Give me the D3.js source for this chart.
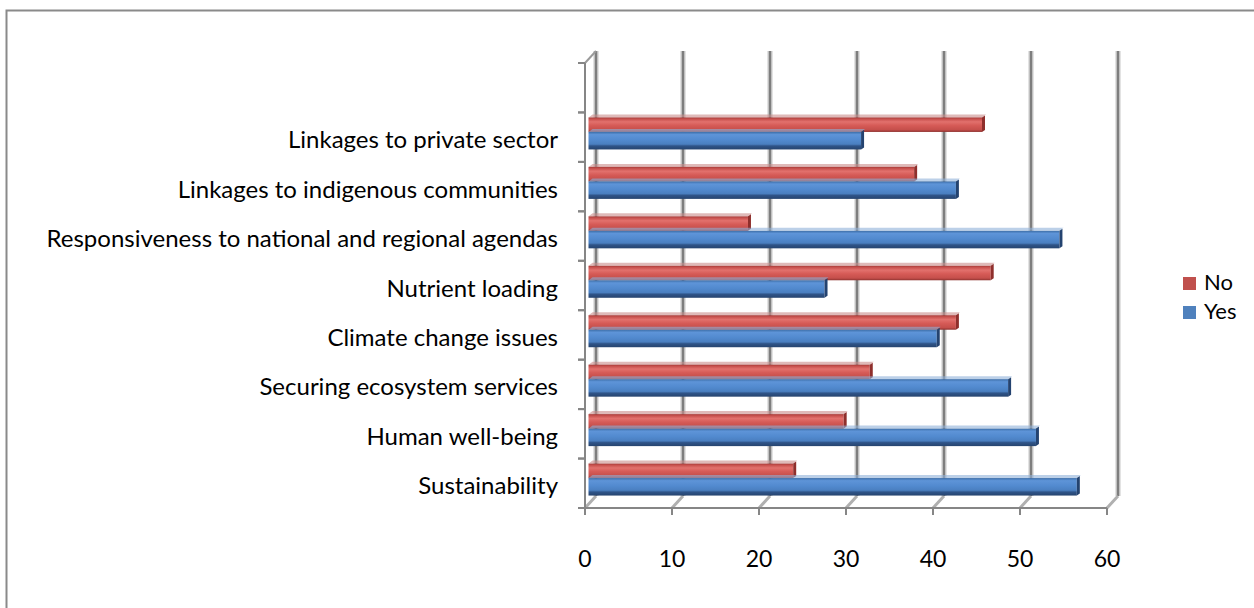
<!DOCTYPE html>
<html>
<head>
<meta charset="utf-8">
<script src="https://cdn.jsdelivr.net/npm/d3@7"></script>
<style>
  html, body { margin: 0; padding: 0; background: #ffffff; }
  svg { display: block; }
  text { font-family: "Lato", "Open Sans", sans-serif; fill: #000; }
</style>
</head>
<body>
<svg id="chart" width="1254" height="608"></svg>
<script>
// Categories listed bottom to top, as the axis runs
const categories = [
  "Sustainability",
  "Human well-being",
  "Securing ecosystem services",
  "Climate change issues",
  "Nutrient loading",
  "Responsiveness to national and regional agendas",
  "Linkages to indigenous communities",
  "Linkages to private sector"
];
const noValues  = [23.3, 29.1, 32.1, 42.0, 46.0, 18.1, 37.2, 45.0];
const yesValues = [55.9, 51.2, 48.0, 39.8, 26.9, 53.9, 42.0, 31.1];
const seriesNames = ["No", "Yes"];
const xTicks = [0, 10, 20, 30, 40, 50, 60];

const svg = d3.select("#chart");

// Plot geometry (front plane) and depth offset of the back wall
const left = 585, right = 1107, floorY = 508, topY = 63;
const depthX = 11, depthY = -12;

const x = d3.scaleLinear().domain([0, 60]).range([left, right]);
// one spare slot above the last category, as the 3-D axis leaves it
const slots = categories.concat([" "]);
const y = d3.scaleBand().domain(slots).range([floorY, topY]).paddingInner(0).paddingOuter(0);

// Outer chart frame
svg.append("rect")
  .attr("x", 6.5).attr("y", 10.5)
  .attr("width", 1300).attr("height", 700)
  .attr("fill", "none").attr("stroke", "#8a8a8a").attr("stroke-width", 2);

const defs = svg.append("defs");
function grad(id, stops) {
  const g = defs.append("linearGradient").attr("id", id)
    .attr("x1", 0).attr("y1", 0).attr("x2", 0).attr("y2", 1);
  stops.forEach(s => g.append("stop").attr("offset", s[0]).attr("stop-color", s[1]));
}
grad("gNo",  [[0, "#a83c39"], [0.12, "#c9524f"], [0.3, "#e2716d"], [0.55, "#d65b57"], [0.85, "#c54f4b"], [1, "#8e3330"]]);
grad("gYes", [[0, "#3d6ea8"], [0.15, "#5e94d8"], [0.45, "#528acf"], [0.7, "#4a7fc0"], [0.8, "#2f5488"], [1, "#26446f"]]);

// Back wall grid lines
const grid = svg.append("g");
xTicks.forEach(v => {
  grid.append("line")
    .attr("x1", x(v) + depthX).attr("x2", x(v) + depthX)
    .attr("y1", topY + depthY).attr("y2", floorY + depthY)
    .attr("stroke", "#c8c8c8").attr("stroke-width", 5);
  grid.append("line")
    .attr("x1", x(v) + depthX).attr("x2", x(v) + depthX)
    .attr("y1", topY + depthY).attr("y2", floorY + depthY)
    .attr("stroke", "#7e7e7e").attr("stroke-width", 2.2);
  // floor lines running toward the viewer
  grid.append("line")
    .attr("x1", x(v)).attr("y1", floorY)
    .attr("x2", x(v) + depthX).attr("y2", floorY + depthY)
    .attr("stroke", "#b0b0b0").attr("stroke-width", 3);
});
// Top edge of the side wall
grid.append("line")
  .attr("x1", left).attr("y1", topY).attr("x2", left + depthX).attr("y2", topY + depthY)
  .attr("stroke", "#9a9a9a").attr("stroke-width", 2);

// Bars
const barH = 14.5, barTop = 5, sideH = 3;
const bars = svg.append("g");
const series = [
  { name: "No", values: noValues, fill: "url(#gNo)", cap: "#8f2f2c", top: "#c98c8a", off: 0, extra: 0 },
  { name: "Yes", values: yesValues, fill: "url(#gYes)", cap: "#244370", top: "#8fb0d8", off: barH, extra: sideH }
];
const x0 = x(0) + depthX / 2 - 2;
series.forEach(s => {
  categories.forEach((c, i) => {
    const v = s.values[i];
    const yy = y(c) + barTop + s.off;
    const h = barH + s.extra;
    const xe = x(v) + depthX / 2;
    // faint top face seen through the perspective
    bars.append("path")
      .attr("d", `M${x0},${yy} L${x0 + 4},${yy - 3} L${xe + 4},${yy - 3} L${xe},${yy} Z`)
      .attr("fill", s.top).attr("opacity", 0.6);
    bars.append("rect")
      .attr("x", x0).attr("y", yy)
      .attr("width", xe - x0).attr("height", h)
      .attr("fill", s.fill);
    // end cap
    bars.append("path")
      .attr("d", `M${xe},${yy} L${xe + 3},${yy - 2} L${xe + 3},${yy + h - 2} L${xe},${yy + h} Z`)
      .attr("fill", s.cap);
  });
});

// Category axis
const yAxis = svg.append("g");
yAxis.append("line")
  .attr("x1", left).attr("x2", left).attr("y1", topY).attr("y2", floorY)
  .attr("stroke", "#868686").attr("stroke-width", 2);
slots.forEach(s => {
  [y(s), y(s) + y.bandwidth()].forEach(t => {
    yAxis.append("line")
      .attr("x1", left - 7).attr("x2", left).attr("y1", t).attr("y2", t)
      .attr("stroke", "#868686").attr("stroke-width", 2);
  });
});
yAxis.selectAll("text.cat").data(categories).join("text")
  .attr("class", "cat")
  .attr("x", 558)
  .attr("y", d => y(d) + y.bandwidth() / 2 + 5)
  .attr("text-anchor", "end")
  .attr("dominant-baseline", "middle")
  .style("font-size", "24px")
  .text(d => d);

// Value axis
const xAxis = svg.append("g");
xAxis.append("line")
  .attr("x1", left).attr("x2", right).attr("y1", floorY).attr("y2", floorY)
  .attr("stroke", "#868686").attr("stroke-width", 2);
xTicks.forEach(v => {
  xAxis.append("line")
    .attr("x1", x(v)).attr("x2", x(v)).attr("y1", floorY).attr("y2", floorY + 7)
    .attr("stroke", "#868686").attr("stroke-width", 2);
});
xAxis.selectAll("text.tick").data(xTicks).join("text")
  .attr("class", "tick")
  .attr("x", d => x(d))
  .attr("y", 561)
  .attr("text-anchor", "middle")
  .attr("dominant-baseline", "middle")
  .style("font-size", "23px")
  .text(d => d);

// Legend
const legend = svg.append("g");
const legendItems = [
  { name: seriesNames[0], color: "#c0504d" },
  { name: seriesNames[1], color: "#4f81bd" }
];
legendItems.forEach((d, i) => {
  const cy = 284 + i * 29;
  legend.append("rect")
    .attr("x", 1183).attr("y", cy - 7).attr("width", 13).attr("height", 13)
    .attr("fill", d.color);
  legend.append("text")
    .attr("x", 1204).attr("y", cy)
    .attr("dominant-baseline", "middle")
    .style("font-size", "22px")
    .text(d.name);
});
</script>
</body>
</html>
